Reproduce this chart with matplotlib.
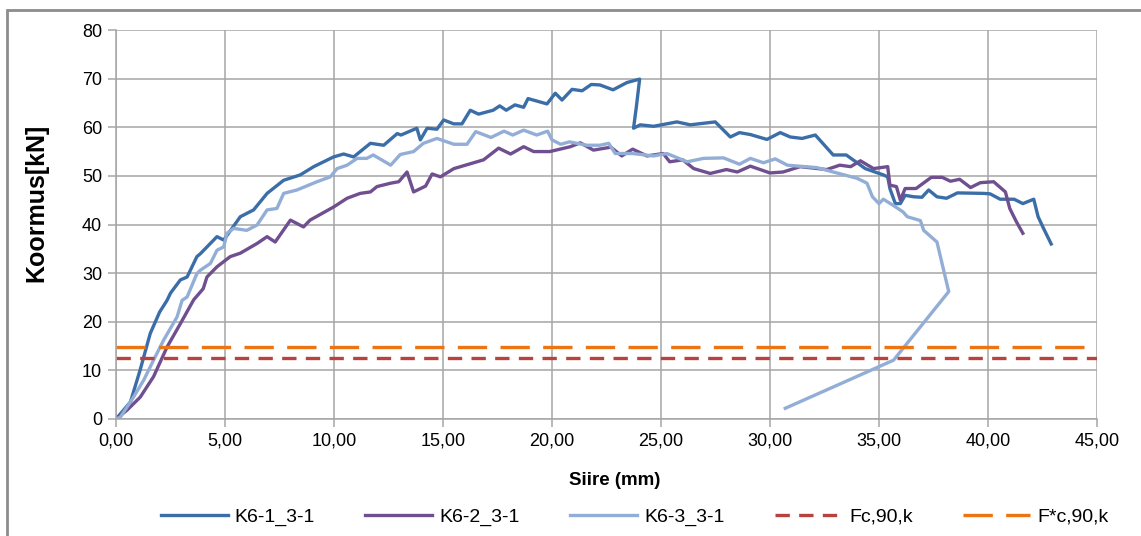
import matplotlib
matplotlib.use("Agg")
import matplotlib.pyplot as plt
from matplotlib.patches import Rectangle

FONT = ['Liberation Sans Narrow', 'Liberation Sans', 'DejaVu Sans']
plt.rcParams['font.family'] = FONT

# K6-1_3-1
x1 = [0, 0.66, 1.1, 1.57, 2.0, 2.34, 2.5, 2.95, 3.26, 3.71, 3.87, 4.63, 4.94, 5.70, 6.31, 6.93,
      7.69, 8.45, 9.07, 9.98, 10.44, 10.9, 11.67, 12.28, 12.9, 13.07, 13.8, 13.96, 14.27, 14.72,
      15.03, 15.49, 15.87, 16.25, 16.63, 17.3, 17.6, 17.9, 18.3, 18.7, 18.9, 19.77, 20.15, 20.46,
      20.92, 21.38, 21.8, 22.2, 22.8, 23.44, 24.02, 23.87, 23.74, 24.05, 24.66, 25.73, 26.34,
      27.49, 28.18, 28.6, 29.1, 29.86, 30.47, 30.93, 31.47, 32.08, 32.9, 33.5, 34.37, 35.2, 35.4,
      35.5, 35.75, 35.98, 36.2, 36.6, 36.97, 37.28, 37.66, 38.1, 38.6, 39.8, 40.1, 40.56, 41.2,
      41.6, 42.1, 42.3, 42.55, 42.9]
y1 = [0, 3.5, 10.0, 17.6, 22.0, 24.4, 25.9, 28.6, 29.2, 33.4, 34.0, 37.5, 36.8, 41.6, 43.0, 46.4,
      49.1, 50.2, 51.9, 53.9, 54.5, 53.9, 56.7, 56.3, 58.7, 58.4, 59.8, 57.4, 59.8, 59.6,
      61.5, 60.7, 60.7, 63.5, 62.7, 63.5, 64.4, 63.5, 64.6, 64.1, 65.9, 64.8, 67.0, 65.6,
      67.8, 67.5, 68.8, 68.7, 67.7, 69.2, 69.9, 64.2, 59.8, 60.5, 60.2, 61.1, 60.5,
      61.1, 58.0, 58.9, 58.5, 57.5, 58.9, 58.0, 57.7, 58.4, 54.3, 54.3, 51.5, 50.2, 49.8,
      47.4, 44.3, 44.3, 46.0, 45.7, 45.6, 47.1, 45.7, 45.4, 46.5, 46.4, 46.3, 45.2, 45.2,
      44.3, 45.2, 41.6, 39.2, 36.0]

# K6-2_3-1
x2 = [0, 0.5, 1.11, 1.72, 2.34, 2.95, 3.56, 4.0, 4.17, 4.63, 5.24, 5.7, 6.47, 6.93, 7.3, 8.0, 8.6,
      8.9, 9.98, 10.6, 11.2, 11.67, 11.97, 12.6, 12.97, 13.35, 13.65, 14.2, 14.5, 14.88, 15.5,
      16.86, 17.55, 18.1, 18.7, 19.16, 19.9, 20.84, 21.3, 21.9, 22.7, 23.2, 23.7, 24.36, 25.1,
      25.4, 26.0, 26.5, 27.26, 28.0, 28.5, 29.1, 30.0, 30.6, 31.38, 32.6, 33.2, 33.7, 34.15,
      34.75, 35.4, 35.5, 35.8, 35.98, 36.2, 36.7, 37.4, 37.9, 38.28, 38.7, 39.2, 39.65, 40.26,
      40.8, 41.0, 41.3, 41.6]
y2 = [0, 1.8, 4.5, 8.7, 14.8, 19.6, 24.5, 26.8, 29.2, 31.3, 33.4, 34.1, 36.1, 37.5, 36.4, 40.9, 39.5,
      40.9, 43.6, 45.4, 46.4, 46.7, 47.8, 48.5, 48.8, 50.8, 46.7, 47.9, 50.4, 49.8, 51.5,
      53.3, 55.7, 54.5, 56.0, 55.0, 55.0, 56.0, 56.8, 55.3, 55.9, 54.1, 55.5, 54.1, 54.6,
      52.9, 53.3, 51.5, 50.5, 51.3, 50.8, 52.0, 50.6, 50.8, 51.9, 51.3, 52.2, 51.9, 53.1,
      51.5, 51.9, 48.1, 47.8, 45.0, 47.4, 47.4, 49.7, 49.7, 48.9, 49.3, 47.6, 48.6, 48.8,
      46.7, 43.3, 40.6, 38.2]

# K6-3_3-1
x3 = [0, 0.2, 0.8, 1.27, 1.72, 2.18, 2.8, 3.03, 3.26, 3.71, 3.87, 4.33, 4.63, 4.94, 5.09, 5.4, 6.0,
      6.47, 6.93, 7.38, 7.69, 8.3, 9.22, 9.83, 10.14, 10.6, 11.06, 11.5, 11.8, 12.6, 13.04,
      13.65, 14.1, 14.72, 15.5, 16.1, 16.5, 17.2, 17.8, 18.2, 18.7, 19.3, 19.8, 20.0, 20.4,
      20.8, 21.6, 22.2, 22.6, 22.9, 23.7, 24.66, 25.27, 26.2, 26.95, 27.87, 28.6, 29.1, 29.7,
      30.24, 30.8, 32.15, 32.9, 34.0, 34.45, 34.7, 35.0, 35.2, 35.7, 36.1, 36.3, 36.9, 37.05,
      37.66, 38.2, 35.67, 30.7]
y3 = [0, 0.4, 4.5, 8.0, 12.1, 16.2, 21.0, 24.4, 25.1, 29.9, 30.6, 32.0, 34.7, 35.4, 38.2, 39.2, 38.8,
      39.9, 43.0, 43.3, 46.4, 47.1, 48.8, 49.8, 51.5, 52.2, 53.6, 53.6, 54.3, 52.2, 54.4,
      55.0, 56.7, 57.7, 56.5, 56.5, 59.1, 57.9, 59.2, 58.4, 59.4, 58.4, 59.2, 57.4, 56.5,
      57.0, 56.3, 56.3, 56.7, 54.6, 54.6, 54.1, 54.6, 52.9, 53.6, 53.7, 52.4, 53.6, 52.7,
      53.5, 52.2, 51.7, 50.8, 49.5, 48.5, 45.7, 44.3, 45.2, 43.8, 42.6, 41.6, 40.8, 38.8,
      36.4, 26.2, 12.1, 2.2]

fc90k = 12.6
fstar90k = 14.8
x_limits = [0, 45]

fig = plt.figure(figsize=(11.41, 5.36), dpi=100)
ax = fig.add_axes([0.1017, 0.2183, 0.8597, 0.7257])

ax.plot(x1, y1, color='#3B6EA8', lw=2.4, label='K6-1_3-1', solid_joinstyle='round')
ax.plot(x2, y2, color='#6F4F8F', lw=2.4, label='K6-2_3-1', solid_joinstyle='round')
ax.plot(x3, y3, color='#93AED6', lw=2.4, label='K6-3_3-1', solid_joinstyle='round')
ax.plot(x_limits, [fc90k, fc90k], color='#B6433F', lw=2.4, ls=(0, (4.3, 2.8)), label='Fc,90,k')
ax.plot(x_limits, [fstar90k, fstar90k], color='#EC7412', lw=2.4, ls=(0, (8.8, 4.0)), label='F*c,90,k')

ax.set_xlim(0, 45)
ax.set_ylim(0, 80)
ax.set_xticks(range(0, 46, 5))
ax.set_xticklabels([f'{v:.2f}'.replace('.', ',') for v in range(0, 46, 5)])
ax.set_yticks(range(0, 81, 10))
ax.grid(True, color='#A6A6A6', lw=1.1)
ax.set_axisbelow(True)
for s in ['top', 'right']:
    ax.spines[s].set_visible(False)
for s in ['left', 'bottom']:
    ax.spines[s].set_color('#A6A6A6')
    ax.spines[s].set_linewidth(1.1)
ax.tick_params(axis='both', direction='out', length=6, width=1.1, color='#A6A6A6',
               labelsize=13, pad=4)

ax.set_xlabel('Siire (mm)', fontsize=13.5, fontweight='bold')
ax.xaxis.set_label_coords(0.508, -0.137)
ax.set_ylabel('Koormus[kN]', fontsize=18, fontweight='bold')
ax.yaxis.set_label_coords(-0.069, 0.556)

fig.legend(loc='center', bbox_to_anchor=(0.556, 0.035), ncol=5, frameon=False,
           fontsize=14, handlelength=3.45, columnspacing=2.6, handletextpad=0.35)

fig.patches.append(Rectangle((0.006, -0.05), 1.1, 1.031, transform=fig.transFigure,
                             fill=False, edgecolor='#8C8C8C', lw=2))

fig.savefig('out.png', dpi=100)
